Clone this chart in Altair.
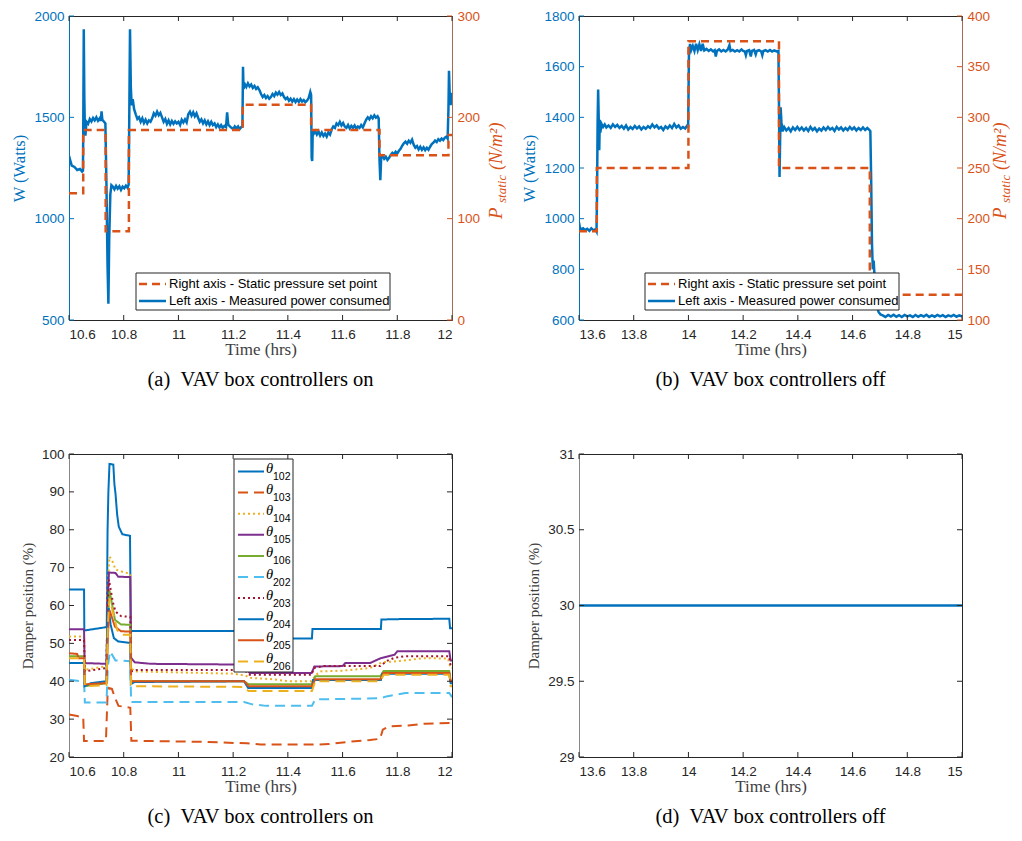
import altair as alt
import pandas as pd

BLUE = "#0072BD"
ORANGE = "#D95319"
YELLOW = "#EDB120"
PURPLE = "#7E2F8E"
GREEN = "#77AC30"
CYAN = "#4DBEEE"
DARKRED = "#A2142F"
GRAY = "#262626"
RAXIS = "#A86A55"

# ---------------- panel (a): power + static pressure set point ----------------
a_power_pts = [
    (10.600, 1310), (10.605, 1285), (10.610, 1262), (10.620, 1255), (10.630, 1240), (10.640, 1245),
    (10.648, 1232), (10.651, 1236), (10.652, 1420), (10.654, 1935), (10.656, 1600), (10.658, 1440),
    (10.660, 1410), (10.664, 1478), (10.670, 1468), (10.676, 1492), (10.682, 1480), (10.688, 1497),
    (10.694, 1485), (10.700, 1500), (10.706, 1483), (10.712, 1495), (10.716, 1482), (10.719, 1530),
    (10.722, 1488), (10.728, 1478), (10.733, 1470), (10.737, 1160), (10.741, 760), (10.744, 580),
    (10.747, 900), (10.751, 1120), (10.755, 1165), (10.760, 1158), (10.766, 1145), (10.772, 1162),
    (10.778, 1148), (10.784, 1160), (10.790, 1142), (10.796, 1158), (10.802, 1150), (10.808, 1163),
    (10.814, 1152), (10.818, 1168), (10.820, 1450), (10.823, 1935), (10.826, 1650), (10.829, 1560),
    (10.833, 1590), (10.838, 1540), (10.844, 1515), (10.850, 1492), (10.856, 1500), (10.862, 1478),
    (10.868, 1495), (10.874, 1472), (10.880, 1488), (10.886, 1470), (10.892, 1485), (10.898, 1478),
    (10.904, 1495), (10.910, 1520), (10.916, 1508), (10.922, 1528), (10.928, 1510), (10.934, 1522),
    (10.940, 1500), (10.946, 1478), (10.952, 1492), (10.958, 1468), (10.964, 1485), (10.970, 1465),
    (10.976, 1482), (10.982, 1468), (10.988, 1480), (10.994, 1470), (11.000, 1478), (11.006, 1462),
    (11.012, 1488), (11.018, 1475), (11.024, 1490), (11.030, 1475), (11.036, 1515), (11.042, 1528),
    (11.048, 1508), (11.054, 1525), (11.060, 1505), (11.066, 1520), (11.072, 1498), (11.078, 1478),
    (11.084, 1490), (11.090, 1470), (11.096, 1485), (11.102, 1465), (11.108, 1480), (11.114, 1462),
    (11.120, 1478), (11.126, 1462), (11.132, 1470), (11.138, 1452), (11.144, 1465), (11.150, 1450),
    (11.156, 1462), (11.162, 1448), (11.168, 1458), (11.174, 1452), (11.178, 1525), (11.182, 1465),
    (11.188, 1455), (11.194, 1448), (11.200, 1442), (11.206, 1455), (11.212, 1445), (11.218, 1455),
    (11.224, 1442), (11.230, 1452), (11.234, 1455), (11.236, 1750), (11.238, 1640), (11.242, 1665),
    (11.248, 1650), (11.254, 1668), (11.260, 1652), (11.266, 1662), (11.272, 1645), (11.278, 1655),
    (11.284, 1640), (11.290, 1648), (11.296, 1635), (11.302, 1615), (11.308, 1600), (11.314, 1610),
    (11.320, 1595), (11.326, 1605), (11.332, 1592), (11.338, 1600), (11.344, 1615), (11.350, 1605),
    (11.356, 1622), (11.362, 1612), (11.368, 1625), (11.374, 1610), (11.380, 1618), (11.386, 1600),
    (11.392, 1590), (11.398, 1598), (11.404, 1582), (11.410, 1592), (11.416, 1578), (11.422, 1590),
    (11.428, 1575), (11.434, 1588), (11.440, 1576), (11.446, 1590), (11.452, 1578), (11.458, 1585),
    (11.464, 1575), (11.470, 1582), (11.476, 1595), (11.482, 1625), (11.485, 1610), (11.487, 1300),
    (11.489, 1285), (11.491, 1440), (11.495, 1420), (11.500, 1432), (11.506, 1415), (11.512, 1430),
    (11.518, 1410), (11.524, 1425), (11.530, 1408), (11.536, 1420), (11.542, 1405), (11.548, 1425),
    (11.554, 1415), (11.560, 1440), (11.566, 1455), (11.572, 1448), (11.578, 1470), (11.584, 1462),
    (11.590, 1478), (11.596, 1460), (11.602, 1472), (11.608, 1455), (11.614, 1448), (11.620, 1462),
    (11.626, 1445), (11.632, 1458), (11.638, 1448), (11.644, 1460), (11.650, 1445), (11.656, 1455),
    (11.662, 1448), (11.668, 1462), (11.674, 1450), (11.680, 1470), (11.686, 1488), (11.692, 1500),
    (11.698, 1490), (11.704, 1505), (11.710, 1495), (11.716, 1510), (11.722, 1498), (11.728, 1505),
    (11.732, 1495), (11.735, 1290), (11.738, 1190), (11.741, 1300), (11.746, 1310), (11.752, 1295),
    (11.758, 1305), (11.764, 1290), (11.770, 1300), (11.776, 1315), (11.782, 1325), (11.788, 1318),
    (11.794, 1330), (11.800, 1322), (11.806, 1335), (11.812, 1345), (11.818, 1360), (11.824, 1372),
    (11.830, 1380), (11.836, 1370), (11.842, 1385), (11.848, 1375), (11.854, 1390), (11.860, 1365),
    (11.866, 1350), (11.872, 1358), (11.878, 1342), (11.884, 1355), (11.890, 1340), (11.896, 1352),
    (11.902, 1338), (11.908, 1350), (11.914, 1340), (11.920, 1355), (11.926, 1368), (11.932, 1375),
    (11.938, 1385), (11.944, 1378), (11.950, 1392), (11.956, 1385), (11.962, 1395), (11.968, 1388),
    (11.974, 1400), (11.980, 1405), (11.984, 1395), (11.987, 1540), (11.989, 1730), (11.992, 1600),
    (11.995, 1560), (11.998, 1620), (12.000, 1600),
]
a_sp_t = [10.600, 10.652, 10.734, 10.819, 11.235, 11.485, 11.735, 11.987, 12.000]
a_sp = [125, 187.5, 87.5, 187.5, 212.5, 187.5, 162.5, 182.5, 182.5]

# ---------------- panel (b) ----------------
b_power_pts = [
    (13.600, 985), (13.603, 965), (13.608, 958), (13.615, 962), (13.622, 955), (13.630, 960),
    (13.638, 952), (13.645, 962), (13.652, 955), (13.660, 958), (13.664, 950), (13.666, 1100),
    (13.668, 1380), (13.670, 1510), (13.672, 1400), (13.674, 1270), (13.676, 1390), (13.678, 1340),
    (13.682, 1375), (13.688, 1362), (13.694, 1372), (13.700, 1360), (13.708, 1368), (13.716, 1358),
    (13.724, 1372), (13.732, 1362), (13.740, 1370), (13.748, 1358), (13.756, 1366), (13.764, 1355),
    (13.772, 1368), (13.780, 1352), (13.788, 1362), (13.796, 1354), (13.804, 1366), (13.812, 1356),
    (13.820, 1364), (13.828, 1352), (13.836, 1362), (13.844, 1355), (13.852, 1365), (13.860, 1358),
    (13.868, 1372), (13.876, 1360), (13.884, 1368), (13.892, 1356), (13.900, 1362), (13.908, 1350),
    (13.916, 1364), (13.924, 1356), (13.932, 1368), (13.940, 1358), (13.948, 1374), (13.956, 1360),
    (13.964, 1368), (13.972, 1355), (13.980, 1362), (13.988, 1356), (13.996, 1368), (13.999, 1360),
    (14.002, 1660), (14.006, 1690), (14.010, 1665), (14.016, 1682), (14.022, 1662), (14.028, 1690),
    (14.034, 1665), (14.040, 1688), (14.046, 1662), (14.052, 1690), (14.058, 1664), (14.066, 1670),
    (14.074, 1662), (14.082, 1668), (14.090, 1660), (14.096, 1665), (14.100, 1640), (14.104, 1662),
    (14.112, 1668), (14.120, 1660), (14.128, 1666), (14.136, 1660), (14.144, 1668), (14.150, 1685),
    (14.154, 1662), (14.162, 1666), (14.170, 1660), (14.178, 1665), (14.186, 1660), (14.194, 1668),
    (14.200, 1662), (14.206, 1660), (14.210, 1645), (14.214, 1662), (14.222, 1665), (14.228, 1640),
    (14.232, 1662), (14.240, 1666), (14.246, 1648), (14.250, 1662), (14.258, 1665), (14.266, 1660),
    (14.270, 1645), (14.274, 1662), (14.282, 1665), (14.290, 1660), (14.298, 1666), (14.306, 1660),
    (14.314, 1664), (14.322, 1660), (14.329, 1662), (14.331, 1450), (14.333, 1165), (14.335, 1300),
    (14.337, 1440), (14.340, 1380), (14.344, 1345), (14.350, 1362), (14.358, 1348), (14.366, 1358),
    (14.374, 1345), (14.382, 1360), (14.390, 1350), (14.398, 1362), (14.406, 1350), (14.414, 1360),
    (14.422, 1348), (14.430, 1358), (14.438, 1346), (14.446, 1362), (14.454, 1350), (14.462, 1358),
    (14.470, 1345), (14.478, 1356), (14.486, 1348), (14.494, 1360), (14.502, 1350), (14.510, 1362),
    (14.518, 1352), (14.526, 1358), (14.534, 1346), (14.542, 1362), (14.550, 1352), (14.558, 1360),
    (14.566, 1348), (14.574, 1358), (14.582, 1350), (14.590, 1362), (14.598, 1352), (14.606, 1360),
    (14.614, 1348), (14.622, 1358), (14.630, 1350), (14.638, 1360), (14.646, 1350), (14.654, 1358),
    (14.660, 1352), (14.665, 1345), (14.668, 1150), (14.671, 900), (14.674, 800), (14.677, 835),
    (14.680, 780), (14.684, 700), (14.689, 655), (14.695, 632), (14.702, 622), (14.710, 618),
    (14.720, 612), (14.730, 620), (14.740, 614), (14.750, 621), (14.760, 613), (14.770, 619),
    (14.780, 612), (14.790, 620), (14.800, 614), (14.810, 618), (14.820, 612), (14.830, 620),
    (14.840, 613), (14.850, 619), (14.860, 614), (14.870, 621), (14.880, 612), (14.890, 618),
    (14.900, 613), (14.910, 620), (14.920, 614), (14.930, 619), (14.940, 612), (14.950, 618),
    (14.960, 614), (14.970, 620), (14.980, 613), (14.990, 618), (15.000, 615),
]
b_sp_t = [13.600, 13.665, 14.000, 14.331, 14.663, 15.000]
b_sp = [187.5, 250, 375, 250, 125, 125]

# ---------------- panel (c): damper positions ----------------
c102_t = [10.600, 10.655, 10.656, 10.738, 10.741, 10.744, 10.748, 10.762, 10.766, 10.770, 10.776, 10.782, 10.795, 10.823, 10.826, 11.250, 11.252, 11.488, 11.490, 11.740, 11.742, 11.800, 11.990, 11.993, 12.000]
c102_y = [64.2, 64.2, 53.4, 54.3, 80.0, 90.0, 97.4, 97.2, 92.0, 89.5, 84.0, 80.8, 78.8, 78.4, 53.3, 53.3, 51.3, 51.3, 53.8, 53.8, 56.3, 56.4, 56.5, 54.0, 54.0]
c103_t = [10.600, 10.630, 10.652, 10.655, 10.735, 10.741, 10.746, 10.757, 10.766, 10.781, 10.824, 10.828, 11.100, 11.250, 11.300, 11.500, 11.550, 11.620, 11.700, 11.737, 11.747, 11.770, 11.840, 11.900, 12.000]
c103_y = [31.2, 30.8, 30.5, 24.2, 24.2, 36.5, 38.2, 38.0, 36.0, 33.5, 33.0, 24.3, 24.0, 23.6, 23.3, 23.3, 23.4, 24.0, 24.5, 24.8, 27.2, 28.1, 28.3, 28.8, 29.0]
c104_t = [10.600, 10.655, 10.658, 10.737, 10.741, 10.748, 10.757, 10.770, 10.800, 10.824, 10.827, 10.840, 11.200, 11.245, 11.260, 11.350, 11.400, 11.487, 11.500, 11.520, 11.600, 11.700, 11.745, 11.800, 11.900, 11.985, 11.995, 12.000]
c104_y = [51.8, 51.8, 43.0, 44.0, 65.0, 72.9, 72.0, 69.5, 68.8, 68.4, 43.5, 42.6, 42.0, 41.5, 40.9, 40.5, 40.0, 40.0, 41.5, 42.6, 42.8, 43.5, 45.0, 45.3, 46.1, 46.0, 43.5, 43.5]
c105_t = [10.600, 10.655, 10.657, 10.737, 10.741, 10.746, 10.770, 10.780, 10.824, 10.827, 10.840, 10.900, 11.240, 11.260, 11.487, 11.497, 11.600, 11.610, 11.700, 11.740, 11.790, 11.800, 11.990, 11.995, 12.000]
c105_y = [53.7, 53.7, 44.8, 44.6, 60.0, 68.7, 68.6, 67.6, 67.5, 46.2, 45.0, 44.6, 44.4, 42.2, 42.2, 43.9, 44.0, 44.8, 44.8, 46.1, 47.0, 47.9, 47.9, 45.5, 45.5]
c106_t = [10.600, 10.655, 10.658, 10.737, 10.742, 10.748, 10.768, 10.790, 10.824, 10.827, 11.240, 11.256, 11.488, 11.500, 11.738, 11.750, 11.990, 11.995, 12.000]
c106_y = [46.6, 46.6, 38.7, 39.5, 55.0, 64.0, 56.2, 55.0, 54.9, 40.0, 40.0, 39.2, 39.2, 41.3, 41.3, 42.7, 42.7, 40.0, 40.0]
c202_t = [10.600, 10.640, 10.655, 10.658, 10.737, 10.742, 10.750, 10.770, 10.824, 10.827, 11.240, 11.270, 11.320, 11.488, 11.500, 11.738, 11.760, 11.830, 11.990, 12.000]
c202_y = [40.4, 40.0, 40.0, 34.4, 34.4, 44.0, 47.9, 45.5, 45.3, 34.5, 34.5, 33.9, 33.5, 33.5, 35.2, 35.5, 36.0, 36.9, 36.9, 35.8]
c203_t = [10.600, 10.655, 10.658, 10.737, 10.741, 10.746, 10.760, 10.770, 10.790, 10.824, 10.827, 10.850, 11.240, 11.260, 11.487, 11.495, 11.530, 11.738, 11.760, 11.790, 11.830, 11.990, 11.995, 12.000]
c203_y = [50.9, 50.9, 42.6, 43.5, 60.0, 66.8, 61.0, 58.4, 57.2, 57.0, 42.6, 43.0, 43.0, 41.7, 41.7, 43.5, 44.0, 44.0, 45.3, 46.2, 46.6, 46.6, 44.0, 44.0]
c204_t = [10.600, 10.655, 10.657, 10.680, 10.737, 10.740, 10.745, 10.752, 10.764, 10.780, 10.824, 10.826, 10.840, 11.240, 11.255, 11.488, 11.492, 11.740, 11.745, 11.990, 11.995, 12.000]
c204_y = [44.8, 44.8, 38.7, 39.5, 40.0, 57.0, 59.3, 55.0, 51.4, 50.5, 50.1, 39.2, 39.8, 40.0, 38.2, 38.2, 40.3, 40.3, 42.0, 42.0, 39.5, 39.5]
c205_t = [10.600, 10.630, 10.635, 10.655, 10.658, 10.737, 10.742, 10.748, 10.768, 10.790, 10.824, 10.827, 11.240, 11.256, 11.488, 11.500, 11.738, 11.750, 11.990, 11.995, 12.000]
c205_y = [47.4, 47.2, 46.1, 46.1, 39.2, 39.5, 52.0, 58.8, 54.4, 53.2, 53.1, 40.0, 40.0, 38.7, 38.7, 40.5, 40.5, 42.2, 42.2, 40.0, 40.0]
c206_t = [10.600, 10.655, 10.658, 10.737, 10.742, 10.748, 10.776, 10.790, 10.824, 10.827, 11.240, 11.256, 11.488, 11.500, 11.738, 11.750, 11.990, 11.995, 12.000]
c206_y = [46.1, 46.1, 38.7, 39.0, 55.0, 61.9, 53.6, 52.3, 52.3, 38.7, 38.5, 37.4, 37.4, 40.0, 40.0, 41.7, 41.7, 38.7, 38.7]

c_ids = ["102", "103", "104", "105", "106", "202", "203", "204", "205", "206"]
c_colors = [BLUE, ORANGE, YELLOW, PURPLE, GREEN, CYAN, DARKRED, BLUE, ORANGE, YELLOW]
SOLID, DASH, DOT = [1, 0], [10, 6], [2, 3]
c_dashes = [SOLID, DASH, DOT, SOLID, SOLID, DASH, DOT, SOLID, SOLID, DASH]

# ---------------- panel (d) ----------------
d_t = [13.6, 15.0]
d_y = [30, 30]

# ---------------- ticks ----------------
x_ticks_a = [10.6, 10.8, 11.0, 11.2, 11.4, 11.6, 11.8, 12.0]
x_ticks_b = [13.6, 13.8, 14.0, 14.2, 14.4, 14.6, 14.8, 15.0]
yl_ticks_a = [500, 1000, 1500, 2000]
yr_ticks_a = [0, 100, 200, 300]
yl_ticks_b = [600, 800, 1000, 1200, 1400, 1600, 1800]
yr_ticks_b = [100, 150, 200, 250, 300, 350, 400]
y_ticks_c = [20, 30, 40, 50, 60, 70, 80, 90, 100]
y_ticks_d = [29, 29.5, 30, 30.5, 31]

SP_LABEL = "Right axis - Static pressure set point"
PW_LABEL = "Left axis - Measured power consumed"

W = 383
HT = 304
HB = 303
TL = 5  # inward tick length
ONE = pd.DataFrame({"k": [0]})


def x_axis(vals):
    return alt.Axis(values=vals, format="~g", title="Time (hrs)", ticks=False, tickSize=0,
                    labelPadding=7, titlePadding=1, grid=False, domainColor=GRAY,
                    labelColor=GRAY, titleColor="#404040", titleFontSize=17)


def x_tick_layers(vals, xscale, xaxis, h, color):
    df = pd.DataFrame({"t": vals})
    base = alt.Chart(df).mark_rule(color=color, strokeWidth=1)
    bottom = base.encode(x=alt.X("t:Q", scale=xscale, axis=xaxis), y=alt.value(h), y2=alt.value(h - TL))
    top = base.encode(x=alt.X("t:Q", scale=xscale, axis=xaxis), y=alt.value(0), y2=alt.value(TL))
    return [bottom, top]


def y_tick_layer(vals, field, yscale, yaxis, side, color):
    df = pd.DataFrame({field: vals})
    if side == "left":
        x1, x2 = 0, TL
    else:
        x1, x2 = W - TL, W
    return alt.Chart(df).mark_rule(color=color, strokeWidth=1).encode(
        y=alt.Y(f"{field}:Q", scale=yscale, axis=yaxis), x=alt.value(x1), x2=alt.value(x2))


def vtext(s, x, y, size, color="black", font="Liberation Sans", style="normal", angle=0,
          align="left", baseline="middle"):
    return alt.Chart(ONE).mark_text(text=s, angle=angle, align=align, baseline=baseline, font=font,
                                    fontStyle=style, fontSize=size, color=color).encode(
        x=alt.value(x), y=alt.value(y))


def vrule(x1, x2, y, color, dash, sw):
    return alt.Chart(ONE).mark_rule(color=color, strokeDash=dash, strokeWidth=sw).encode(
        x=alt.value(x1), x2=alt.value(x2), y=alt.value(y))


def vbox(x1, x2, y1, y2):
    return alt.Chart(ONE).mark_rect(fill="white", stroke=GRAY, strokeWidth=1).encode(
        x=alt.value(x1), x2=alt.value(x2), y=alt.value(y1), y2=alt.value(y2))


def rtitle_layers(off, color):
    f = "Liberation Serif"
    return [vtext("P", W + off, 203, 19, color, f, "italic", 270, "left", "alphabetic"),
            vtext("static", W + off + 4, 187, 13, color, f, "italic", 270, "left", "alphabetic"),
            vtext("(N/m²)", W + off, 154, 18, color, f, "italic", 270, "left", "alphabetic")]


def top_legend(lx):
    return [vbox(lx, lx + 254, 257, 294),
            vrule(lx + 3, lx + 30, 268, ORANGE, [8, 5], 2.5),
            vrule(lx + 3, lx + 30, 285, BLUE, [1, 0], 2.5),
            vtext(SP_LABEL, lx + 33, 268, 13),
            vtext(PW_LABEL, lx + 33, 285, 13)]


def caption(s):
    return alt.TitleParams(s, orient="bottom", font="Liberation Serif", fontSize=20.5,
                           fontWeight="normal", color="black", offset=12, anchor="middle", frame="group")


def top_panel(power_pts, sp_t, sp, xdom, xticks, yl_dom, yl_ticks, yr_dom, yr_ticks, legx, toff, cap):
    xs = alt.Scale(domain=xdom, nice=False, zero=False)
    xax = x_axis(xticks)
    yls = alt.Scale(domain=yl_dom, nice=False, zero=False)
    yrs = alt.Scale(domain=yr_dom, nice=False, zero=False)
    ylax = alt.Axis(orient="left", values=yl_ticks, format="d", title="W (Watts)", ticks=False,
                    tickSize=0, labelPadding=5, titlePadding=6, labelColor=BLUE, titleColor=BLUE,
                    domainColor=BLUE, grid=False, titleFontSize=16.5)
    yrax = alt.Axis(orient="right", values=yr_ticks, format="d", title=None, ticks=False, tickSize=0,
                    labelPadding=5, labelColor=ORANGE, domainColor=RAXIS, grid=False)
    dfp = pd.DataFrame(power_pts, columns=["t", "W"])
    dfs = pd.DataFrame({"t": sp_t, "P": sp})
    power = alt.Chart(dfp).mark_line(strokeWidth=2.5, clip=True, color=BLUE).encode(
        x=alt.X("t:Q", scale=xs, axis=xax),
        y=alt.Y("W:Q", scale=yls, axis=ylax),
    )
    press = alt.Chart(dfs).mark_line(strokeWidth=2.5, interpolate="step-after", clip=True,
                                     color=ORANGE, strokeDash=[8, 5]).encode(
        x=alt.X("t:Q", scale=xs, axis=xax),
        y=alt.Y("P:Q", scale=yrs, axis=yrax),
    )
    left = alt.layer(power, y_tick_layer(yl_ticks, "W", yls, ylax, "left", BLUE),
                     *x_tick_layers(xticks, xs, xax, HT, GRAY))
    right = alt.layer(press, y_tick_layer(yr_ticks, "P", yrs, yrax, "right", ORANGE))
    return alt.layer(left, right, *rtitle_layers(toff, ORANGE), *top_legend(legx)).resolve_scale(
        y="independent").properties(width=W, height=HT, title=caption(cap))


pa = top_panel(a_power_pts, a_sp_t, a_sp, [10.6, 12.0], x_ticks_a, [500, 2000], yl_ticks_a,
               [0, 300], yr_ticks_a, 67, 50, "(a)\u00a0\u00a0VAV box controllers on")
pb = top_panel(b_power_pts, b_sp_t, b_sp, [13.6, 15.0], x_ticks_b, [600, 1800], yl_ticks_b,
               [100, 400], yr_ticks_b, 66, 44, "(b)\u00a0\u00a0VAV box controllers off")

# panel (c)
c_ts = [c102_t, c103_t, c104_t, c105_t, c106_t, c202_t, c203_t, c204_t, c205_t, c206_t]
c_ys = [c102_y, c103_y, c104_y, c105_y, c106_y, c202_y, c203_y, c204_y, c205_y, c206_y]
rows = []
for sid, ts, ys in zip(c_ids, c_ts, c_ys):
    for i, (t, y) in enumerate(zip(ts, ys)):
        rows.append({"series": sid, "t": t, "y": y, "i": i})
dfc = pd.DataFrame(rows)

xs_c = alt.Scale(domain=[10.6, 12.0], nice=False, zero=False)
xax_c = x_axis(x_ticks_a)
ys_c = alt.Scale(domain=[20, 100], nice=False, zero=False)
yax_c = alt.Axis(values=y_ticks_c, title="Damper position (%)", ticks=False, tickSize=0,
                 labelPadding=5, titlePadding=6, grid=False, titleFontSize=15)
lines_c = alt.Chart(dfc).mark_line(strokeWidth=2, clip=True).encode(
    x=alt.X("t:Q", scale=xs_c, axis=xax_c),
    y=alt.Y("y:Q", scale=ys_c, axis=yax_c),
    color=alt.Color("series:N", scale=alt.Scale(domain=c_ids, range=c_colors), legend=None),
    strokeDash=alt.StrokeDash("series:N", scale=alt.Scale(domain=c_ids, range=c_dashes), legend=None),
    order=alt.Order("i:Q"),
)
# legend of panel (c)
LX, LY0, LDY = 165, 17.5, 21.1
leg_c = [vbox(LX, LX + 59, 5, 218)]
for k, (sid, col, dsh) in enumerate(zip(c_ids, c_colors, c_dashes)):
    yy = LY0 + k * LDY
    leg_c.append(vrule(LX + 4, LX + 30, yy, col, dsh, 2))
    leg_c.append(vtext("θ", LX + 32, yy - 2.5, 14.5, "black", "Liberation Serif", "italic"))
    leg_c.append(vtext(sid, LX + 39, yy + 5.5, 10.5, "black", "Liberation Sans"))

pc = alt.layer(
    lines_c,
    *x_tick_layers(x_ticks_a, xs_c, xax_c, HB, GRAY),
    y_tick_layer(y_ticks_c, "y", ys_c, yax_c, "left", GRAY),
    y_tick_layer(y_ticks_c, "y", ys_c, yax_c, "right", GRAY),
    *leg_c,
).properties(width=W, height=HB, title=caption("(c)\u00a0\u00a0VAV box controllers on"))

# panel (d)
xs_d = alt.Scale(domain=[13.6, 15.0], nice=False, zero=False)
xax_d = x_axis(x_ticks_b)
ys_d = alt.Scale(domain=[29, 31], nice=False, zero=False)
yax_d = alt.Axis(values=y_ticks_d, format="~g", title="Damper position (%)", ticks=False, tickSize=0,
                 labelPadding=5, titlePadding=6, grid=False, titleFontSize=15)
dfd = pd.DataFrame({"t": d_t, "y": d_y})
line_d = alt.Chart(dfd).mark_line(strokeWidth=2.5, color=BLUE).encode(
    x=alt.X("t:Q", scale=xs_d, axis=xax_d),
    y=alt.Y("y:Q", scale=ys_d, axis=yax_d),
)
pd_ = alt.layer(
    line_d,
    *x_tick_layers(x_ticks_b, xs_d, xax_d, HB, GRAY),
    y_tick_layer(y_ticks_d, "y", ys_d, yax_d, "left", GRAY),
    y_tick_layer(y_ticks_d, "y", ys_d, yax_d, "right", GRAY),
).properties(width=W, height=HB, title=caption("(d)\u00a0\u00a0VAV box controllers off"))

chart = alt.concat(
    pa, pb, pc, pd_, columns=2, spacing={"row": 134, "column": 127}, bounds="flush"
).properties(
    padding={"left": 3, "top": 0, "right": 0, "bottom": 0}
).configure_view(
    stroke=GRAY, strokeWidth=1
).configure_axis(
    labelFont="Liberation Sans", labelFontSize=13.5, labelColor=GRAY,
    titleFont="Liberation Serif", titleFontSize=16, titleFontWeight="normal", titleColor="#404040",
    grid=False,
)

chart.save("out.html", embed_options={"renderer": "svg", "actions": False})
